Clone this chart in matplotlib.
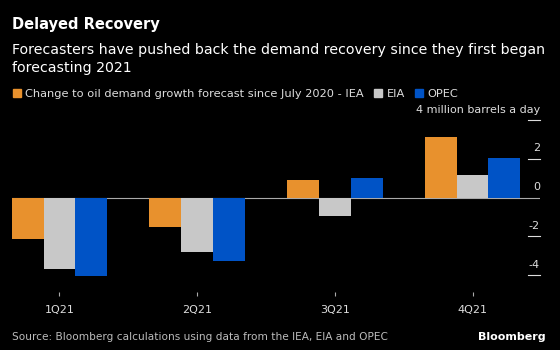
import matplotlib.pyplot as plt
import matplotlib.patches as mpatches
import numpy as np

# data (million barrels a day)
quarters = ['1Q21', '2Q21', '3Q21', '4Q21']
iea = [-2.14, -1.53, 0.92, 3.15]
eia = [-3.67, -2.83, -0.94, 1.16]
opec = [-4.03, -3.27, 1.01, 2.04]
series_names = ['Change to oil demand growth forecast since July 2020 - IEA', 'EIA', 'OPEC']
yticks = [4, 2, 0, -2, -4]
ytick_labels = ['4 million barrels a day', '2', '0', '-2', '-4']

colors = ['#E8912D', '#C8C8C8', '#0053C6']
bg = 'black'

plt.rcParams['font.family'] = ['DejaVu Sans']

fig = plt.figure(figsize=(5.6, 3.5), dpi=100, facecolor=bg)
ax = fig.add_axes([12 / 560, 1 - 292 / 350, 528 / 560, 177 / 350], facecolor=bg)

x = np.arange(len(quarters))
w = 0.231
for i, (vals, c) in enumerate(zip([iea, eia, opec], colors)):
    ax.bar(x + (i - 1) * w, vals, width=w, color=c, zorder=2, linewidth=0)

ax.axhline(0, color='#aaaaaa', linewidth=0.8, zorder=1)
ax.set_xlim(-0.345, 3.49)
ax.set_ylim(-4.87, 4.27)

for s in ax.spines.values():
    s.set_visible(False)

ax.set_xticks(x)
ax.set_xticklabels(quarters, color='#dddddd', fontsize=8)
ax.tick_params(axis='x', length=3, color='#aaaaaa', pad=6)
ax.set_yticks([])

# right-side ticks, label above each tick
trans = ax.get_yaxis_transform()
for v, lab in zip(yticks, ytick_labels):
    if v != 0:
        ax.plot([0.977, 1.0], [v, v], color='#dddddd', linewidth=0.8, transform=trans, clip_on=False)
    ax.annotate(lab, xy=(1.0, v), xycoords=trans, xytext=(0, 4), textcoords='offset points',
                ha='right', va='bottom', color='#dddddd', fontsize=8)

# titles
fig.text(12 / 560, 1 - 29 / 350, 'Delayed Recovery', color='white', fontsize=10.5,
         fontweight='bold', va='baseline')
fig.text(12 / 560, 1 - 54 / 350, 'Forecasters have pushed back the demand recovery since they first began',
         color='white', fontsize=10.2, va='baseline')
fig.text(12 / 560, 1 - 72 / 350, 'forecasting 2021', color='white', fontsize=10.2, va='baseline')

# legend
handles = [mpatches.Patch(color=c, label=n) for c, n in zip(colors, series_names)]
leg = fig.legend(handles=handles, loc='center left', bbox_to_anchor=(8 / 560, 1 - 94 / 350),
                 ncol=3, frameon=False, fontsize=8.2, handlelength=0.7, handleheight=0.7,
                 handletextpad=0.4, columnspacing=0.9, borderaxespad=0)
for t in leg.get_texts():
    t.set_color('#dddddd')

# footer
fig.text(12 / 560, 1 - 340 / 350, 'Source: Bloomberg calculations using data from the IEA, EIA and OPEC',
         color='#bbbbbb', fontsize=7.6, va='baseline')
fig.text(546 / 560, 1 - 340 / 350, 'Bloomberg', color='white', fontsize=8,
         fontweight='bold', ha='right', va='baseline')

fig.savefig('out.png', dpi=100, facecolor=bg)
